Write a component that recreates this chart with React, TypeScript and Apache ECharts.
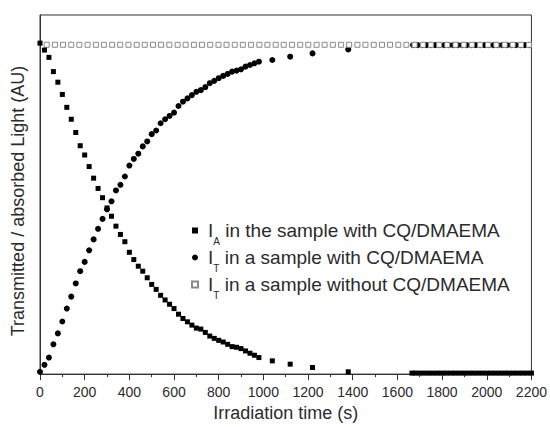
import React, { useEffect, useRef } from "react";
import * as echarts from "echarts";

const xTicks = [0, 200, 400, 600, 800, 1000, 1200, 1400, 1600, 1800, 2000, 2200];

// I_A in the sample with CQ/DMAEMA (filled squares)
const iaTime = [
  0, 20, 40, 60, 80, 100, 120, 140, 160, 180, 200, 220, 240, 260, 280, 300, 320, 340, 360, 380,
  400, 420, 440, 460, 480, 500, 520, 540, 560, 580, 600, 620, 640, 660, 680, 700, 720, 740, 760, 780,
  800, 820, 840, 860, 880, 900, 920, 940, 960, 980, 1040, 1120, 1220, 1380,
  1665, 1680, 1700, 1720, 1740, 1760, 1780, 1800, 1820, 1840, 1860, 1880, 1900, 1920, 1940, 1960,
  1980, 2000, 2020, 2040, 2060, 2080, 2100, 2120, 2140, 2160, 2180, 2200,
];
const iaValue = [
  1.0, 0.979, 0.957, 0.914, 0.882, 0.845, 0.806, 0.77, 0.73, 0.69, 0.662, 0.627, 0.592, 0.561, 0.533, 0.502, 0.477, 0.447, 0.422, 0.4,
  0.368, 0.346, 0.326, 0.311, 0.291, 0.271, 0.256, 0.238, 0.224, 0.211, 0.198, 0.181, 0.168, 0.158, 0.148, 0.139, 0.136, 0.126, 0.115, 0.108,
  0.102, 0.097, 0.09, 0.083, 0.081, 0.077, 0.07, 0.063, 0.057, 0.05, 0.04, 0.03, 0.02, 0.007,
  0.003, 0.003, 0.003, 0.003, 0.003, 0.003, 0.003, 0.003, 0.003, 0.003, 0.003, 0.003, 0.003, 0.003, 0.003, 0.003,
  0.003, 0.003, 0.003, 0.003, 0.003, 0.003, 0.003, 0.003, 0.003, 0.003, 0.003, 0.003,
];

// I_T in a sample with CQ/DMAEMA (filled circles)
const itTime = [
  0, 20, 40, 60, 80, 100, 120, 140, 160, 180, 200, 220, 240, 260, 280, 300, 320, 340, 360, 380,
  400, 420, 440, 460, 480, 500, 520, 540, 560, 580, 600, 620, 640, 660, 680, 700, 720, 740, 760, 780,
  800, 820, 840, 860, 880, 900, 920, 940, 960, 980, 1040, 1120, 1220, 1380,
  1670, 1690, 1710, 1730, 1750, 1770, 1790, 1810, 1830, 1850, 1870, 1890, 1910, 1930, 1950, 1970,
  1990, 2010, 2030, 2050, 2070, 2090, 2110, 2130, 2150, 2170, 2190,
];
const itValue = [
  0.007, 0.028, 0.05, 0.09, 0.123, 0.159, 0.198, 0.234, 0.274, 0.311, 0.339, 0.374, 0.407, 0.439, 0.469, 0.498, 0.522, 0.555, 0.572, 0.597,
  0.63, 0.65, 0.666, 0.688, 0.703, 0.725, 0.736, 0.758, 0.77, 0.78, 0.79, 0.81, 0.823, 0.833, 0.843, 0.853, 0.858, 0.867, 0.879, 0.886,
  0.894, 0.901, 0.907, 0.914, 0.917, 0.921, 0.929, 0.934, 0.939, 0.944, 0.949, 0.959, 0.969, 0.981,
  0.994, 0.994, 0.994, 0.994, 0.994, 0.994, 0.994, 0.994, 0.994, 0.994, 0.994, 0.994, 0.994, 0.994, 0.994, 0.994,
  0.994, 0.994, 0.994, 0.994, 0.994, 0.994, 0.994, 0.994, 0.994, 0.994, 0.994,
];

// I_T in a sample without CQ/DMAEMA (open squares)
const refTime = [
  30, 67, 103, 140, 176, 213, 250, 286, 323, 359, 396, 433, 469, 506, 542, 579, 616, 652, 689, 725,
  762, 799, 835, 872, 908, 945, 982, 1018, 1055, 1091, 1128, 1165, 1201, 1238, 1274, 1311, 1348, 1384, 1421, 1457,
  1494, 1531, 1567, 1604, 1640, 1677, 1714, 1750, 1787, 1823, 1860, 1897, 1933, 1970, 2006, 2043, 2080, 2116, 2153, 2189,
];
const refValue = [
  0.995, 0.995, 0.995, 0.995, 0.995, 0.995, 0.995, 0.995, 0.995, 0.995, 0.995, 0.995, 0.995, 0.995, 0.995, 0.995, 0.995, 0.995, 0.995, 0.995,
  0.995, 0.995, 0.995, 0.995, 0.995, 0.995, 0.995, 0.995, 0.995, 0.995, 0.995, 0.995, 0.995, 0.995, 0.995, 0.995, 0.995, 0.995, 0.995, 0.995,
  0.995, 0.995, 0.995, 0.995, 0.995, 0.995, 0.995, 0.995, 0.995, 0.995, 0.995, 0.995, 0.995, 0.995, 0.995, 0.995, 0.995, 0.995, 0.995, 0.995,
];

const seriesNames = ["IA_with", "IT_with", "IT_without"];
const legendLabels: Record<string, [string, string]> = {
  IA_with: ["A", " in the sample with CQ/DMAEMA"],
  IT_with: ["T", " in a sample with CQ/DMAEMA"],
  IT_without: ["T", " in a sample without CQ/DMAEMA"],
};
const yAxisTitle = "Transmitted / absorbed Light (AU)";
const xAxisTitle = "Irradiation time (s)";

const FONT = "'Liberation Sans', Arial, Helvetica, sans-serif";
const TXT = "#2b2b2b";

function pairs(t: number[], v: number[]) {
  return t.map((x, i) => [x, v[i]]);
}

export default function App() {
  const ref = useRef<HTMLDivElement>(null);
  useEffect(() => {
    if (!ref.current) return;
    const chart = echarts.init(ref.current, null, { renderer: "svg" });
    chart.setOption({
      animation: false,
      backgroundColor: "#ffffff",
      textStyle: { fontFamily: FONT },
      grid: {
        left: 40,
        right: 17,
        top: 15,
        bottom: 52,
        show: true,
        borderColor: "#333",
        borderWidth: 1,
        backgroundColor: "transparent",
      },
      graphic: [
        {
          type: "text",
          x: 18,
          y: 201,
          rotation: Math.PI / 2,
          style: {
            text: yAxisTitle,
            fill: TXT,
            font: `18px ${FONT}`,
            align: "center",
            verticalAlign: "middle",
          },
        },
      ],
      legend: {
        orient: "vertical",
        left: 186,
        top: 216,
        itemWidth: 6,
        itemHeight: 6,
        itemGap: 2,
        selectedMode: false,
        data: seriesNames,
        formatter: (name: string) => {
          const l = legendLabels[name];
          return `{p|}{m|I}{s|${l[0]}}{m|${l[1]}}`;
        },
        textStyle: {
          color: TXT,
          fontFamily: FONT,
          rich: {
            p: { width: 5, fontSize: 19, lineHeight: 21 },
            m: { fontSize: 19, color: TXT, fontFamily: FONT, lineHeight: 21 },
            s: { fontSize: 10, color: TXT, fontFamily: FONT, lineHeight: 10, verticalAlign: "bottom", padding: [0, 0, -5, 0] },
          },
        },
      },
      xAxis: {
        type: "value",
        min: 0,
        max: 2200,
        interval: 200,
        name: xAxisTitle,
        nameLocation: "middle",
        nameGap: 25,
        nameTextStyle: { fontSize: 18, color: TXT, fontFamily: FONT },
        axisLine: { show: true, lineStyle: { color: "#333", width: 1 } },
        axisTick: { show: true, inside: false, length: 6, lineStyle: { color: "#333" } },
        minorTick: { show: true, splitNumber: 2, length: 3, lineStyle: { color: "#333" } },
        splitLine: { show: false },
        axisLabel: {
          fontSize: 14,
          color: TXT,
          fontFamily: FONT,
          margin: 11,
          formatter: (v: number) => (xTicks.includes(v) ? String(v) : ""),
        },
      },
      yAxis: {
        type: "value",
        min: 0,
        max: 1.085,
        axisLine: { show: true, lineStyle: { color: "#333", width: 1 } },
        axisTick: { show: false },
        axisLabel: { show: false },
        splitLine: { show: false },
      },
      series: [
        {
          name: seriesNames[0],
          type: "scatter",
          symbol: "rect",
          symbolSize: 5,
          clip: false,
          z: 4,
          itemStyle: { color: "#000", opacity: 1 },
          data: pairs(iaTime, iaValue),
        },
        {
          name: seriesNames[1],
          type: "scatter",
          symbol: "circle",
          symbolSize: 6,
          clip: false,
          z: 2,
          itemStyle: { color: "#000", opacity: 1 },
          data: pairs(itTime, itValue),
        },
        {
          name: seriesNames[2],
          type: "scatter",
          symbol: "rect",
          symbolSize: 5,
          clip: false,
          z: 3,
          itemStyle: { color: "#ffffff", borderColor: "#8a8a8a", borderWidth: 1, opacity: 1 },
          data: pairs(refTime, refValue),
        },
      ],
    });
    return () => chart.dispose();
  }, []);
  return (
    <div
      ref={ref}
      style={{ position: "absolute", left: 0, top: 0, width: 550, height: 427 }}
    />
  );
}
